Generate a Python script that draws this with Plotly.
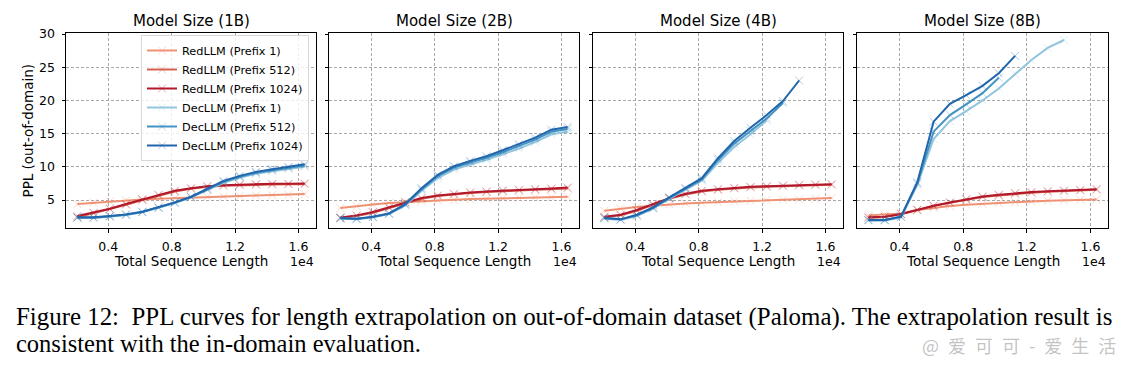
import plotly.graph_objects as go

# ---------------- data ----------------
seq_len = [2048, 3072, 4096, 5120, 6144, 7168, 8192, 9216, 10240,
           11264, 12288, 13312, 14336, 15360, 16384]

panel_titles = ["Model Size (1B)", "Model Size (2B)", "Model Size (4B)", "Model Size (8B)"]
series_names = ["RedLLM (Prefix 1)", "RedLLM (Prefix 512)", "RedLLM (Prefix 1024)",
                "DecLLM (Prefix 1)", "DecLLM (Prefix 512)", "DecLLM (Prefix 1024)"]
series_colors = ["#ef9273", "#d6604d", "#b2182b", "#92c5de", "#4393c3", "#2166ac"]

x_tick_vals = [4000, 8000, 12000, 16000]
x_tick_text = ["0.4", "0.8", "1.2", "1.6"]
y_tick_vals = [5, 10, 15, 20, 25, 30]

# 1B
red1_1b = [4.4, 4.6, 4.8, 4.95, 5.1, 5.2, 5.3, 5.4, 5.5, 5.55, 5.6, 5.7, 5.75, 5.8, 5.9]
red512_1b = [2.4, 3.0, 3.6, 4.3, 5.0, 5.7, 6.3, 6.7, 7.0, 7.15, 7.25, 7.3, 7.35, 7.4, 7.4]
red1024_1b = [2.6, 3.1, 3.7, 4.4, 5.1, 5.8, 6.4, 6.8, 7.1, 7.25, 7.35, 7.4, 7.45, 7.45, 7.5]
dec1_1b = [2.3, 2.3, 2.5, 2.75, 3.15, 3.8, 4.55, 5.4, 6.5, 7.6, 8.35, 8.95, 9.35, 9.7, 10.0]
dec512_1b = [2.35, 2.35, 2.55, 2.8, 3.2, 3.85, 4.6, 5.45, 6.6, 7.75, 8.5, 9.1, 9.5, 9.85, 10.2]
dec1024_1b = [2.4, 2.4, 2.6, 2.85, 3.25, 3.9, 4.65, 5.5, 6.7, 7.9, 8.65, 9.25, 9.65, 10.0, 10.4]

# 2B
red1_2b = [3.8, 4.1, 4.35, 4.55, 4.7, 4.85, 4.95, 5.05, 5.15, 5.2, 5.3, 5.35, 5.4, 5.45, 5.5]
red512_2b = [2.3, 2.6, 3.1, 3.8, 4.6, 5.2, 5.6, 5.85, 6.05, 6.2, 6.35, 6.45, 6.55, 6.65, 6.75]
red1024_2b = [2.4, 2.7, 3.2, 3.9, 4.7, 5.3, 5.7, 5.95, 6.15, 6.3, 6.45, 6.55, 6.65, 6.75, 6.9]
dec1_2b = [2.2, 2.1, 2.4, 2.9, 4.2, 6.4, 8.3, 9.6, 10.35, 11.05, 11.9, 12.75, 13.75, 14.9, 15.3]
dec512_2b = [2.25, 2.15, 2.45, 2.95, 4.3, 6.6, 8.6, 9.9, 10.65, 11.35, 12.2, 13.1, 14.1, 15.3, 15.7]
dec1024_2b = [2.3, 2.2, 2.5, 3.0, 4.4, 6.8, 8.8, 10.1, 10.9, 11.6, 12.5, 13.4, 14.4, 15.6, 16.0]

# 4B
red1_4b = [3.4, 3.7, 3.95, 4.15, 4.35, 4.5, 4.6, 4.7, 4.8, 4.9, 5.0, 5.05, 5.1, 5.2, 5.3]
red512_4b = [2.4, 2.7, 3.4, 4.3, 5.2, 5.85, 6.3, 6.55, 6.75, 6.9, 7.0, 7.1, 7.2, 7.25, 7.3]
red1024_4b = [2.5, 2.8, 3.5, 4.4, 5.3, 5.95, 6.4, 6.65, 6.85, 7.0, 7.1, 7.2, 7.3, 7.35, 7.4]
dec1_4b = [2.2, 2.0, 2.6, 3.7, 5.2, 6.6, 7.9, 10.6, 13.0, 14.9, 17.0]
dec512_4b = [2.3, 2.1, 2.7, 3.8, 5.3, 6.7, 8.1, 11.0, 13.5, 15.4, 17.3, 19.6]
dec1024_4b = [2.3, 2.1, 2.8, 3.9, 5.4, 6.8, 8.3, 11.3, 13.9, 15.9, 17.8, 19.9, 23.0]

# 8B
red1_8b = [2.7, 2.85, 3.0, 3.5, 3.85, 4.1, 4.3, 4.45, 4.6, 4.7, 4.8, 4.9, 4.95, 5.05, 5.1]
red512_8b = [2.3, 2.45, 2.85, 3.5, 4.1, 4.6, 5.05, 5.45, 5.7, 5.95, 6.1, 6.25, 6.35, 6.45, 6.55]
red1024_8b = [2.4, 2.5, 2.9, 3.55, 4.15, 4.65, 5.15, 5.55, 5.8, 6.05, 6.2, 6.35, 6.45, 6.55, 6.65]
dec1_8b = [1.9, 1.9, 2.4, 7.3, 14.2, 16.9, 18.4, 20.0, 21.8, 23.9, 26.1, 27.9, 29.1]
dec512_8b = [2.0, 2.0, 2.5, 7.5, 15.3, 17.8, 19.4, 21.1, 23.4]
dec1024_8b = [2.0, 2.0, 2.5, 7.7, 16.8, 19.5, 20.8, 22.2, 24.1, 26.7]

panels = [
    [red1_1b, red512_1b, red1024_1b, dec1_1b, dec512_1b, dec1024_1b],
    [red1_2b, red512_2b, red1024_2b, dec1_2b, dec512_2b, dec1024_2b],
    [red1_4b, red512_4b, red1024_4b, dec1_4b, dec512_4b, dec1024_4b],
    [red1_8b, red512_8b, red1024_8b, dec1_8b, dec512_8b, dec1024_8b],
]

caption_line1 = ("Figure 12:  PPL curves for length extrapolation on out-of-domain dataset "
                 "(Paloma). The extrapolation result is")
caption_line2 = "consistent with the in-domain evaluation."
watermark = "@\u2002爱\u2002可\u2002可\u2002-\u2002爱\u2002生\u2002活"

# ---------------- layout helpers ----------------
W, H = 1129, 366
def px(v):
    return v / W
def py(v):
    return 1 - v / H

panel_px = [(66, 316), (329, 579), (593, 843), (857, 1108)]
ax_top, ax_bot = 33, 228
FONT = "DejaVu Sans"

def hex_rgba(h, a):
    h = h.lstrip("#")
    r, g, b = int(h[0:2], 16), int(h[2:4], 16), int(h[4:6], 16)
    return f"rgba({r},{g},{b},{a})"

fig = go.Figure()

for p, series in enumerate(panels):
    xa = "x" if p == 0 else f"x{p+1}"
    ya = "y" if p == 0 else f"y{p+1}"
    for s, vals in enumerate(series):
        fig.add_trace(go.Scatter(
            x=seq_len[:len(vals)], y=vals,
            mode="lines+markers",
            name=series_names[s],
            legendgroup=series_names[s],
            showlegend=(p == 0),
            line=dict(color=series_colors[s], width=2),
            marker=dict(symbol="x-thin", size=8,
                        line=dict(width=1, color=hex_rgba(series_colors[s], 0.35))),
            xaxis=xa, yaxis=ya,
        ))

axis_common = dict(
    showline=True, mirror=True, linecolor="black", linewidth=1,
    ticks="outside", ticklen=3.5, tickwidth=0.8, tickcolor="black",
    showgrid=True, gridcolor="#a8a8a8", gridwidth=0.8, griddash="3px,2px",
    zeroline=False, automargin=False,
    tickfont=dict(family=FONT, size=12.5, color="black"),
)

layout = dict(
    width=W, height=H, autosize=False,
    margin=dict(l=0, r=0, t=0, b=0, pad=0, autoexpand=False),
    paper_bgcolor="white", plot_bgcolor="white",
    font=dict(family=FONT, color="black"),
    legend=dict(
        x=px(141), y=py(35), xanchor="left", yanchor="top",
        bgcolor="rgba(255,255,255,0.8)", bordercolor="#d8d8d8", borderwidth=1,
        font=dict(family=FONT, size=11.3, color="black"),
        itemwidth=30, tracegroupgap=0,
    ),
)

annotations = []
for p, (l, r) in enumerate(panel_px):
    sfx = "" if p == 0 else str(p + 1)
    layout["xaxis" + sfx] = dict(
        axis_common, domain=[px(l), px(r)], range=[1331, 17101],
        tickvals=x_tick_vals, ticktext=x_tick_text, anchor="y" + sfx,
        ticklabelstandoff=3,
    )
    layout["yaxis" + sfx] = dict(
        axis_common, domain=[py(ax_bot), py(ax_top)], range=[0.8, 30.15],
        tickvals=y_tick_vals, showticklabels=(p == 0), anchor="x" + sfx,
        ticklabelstandoff=4,
    )
    cx = (l + r) / 2
    annotations.append(dict(text=panel_titles[p], x=px(cx), y=py(20.5), xref="paper", yref="paper",
                            showarrow=False, xanchor="center", yanchor="middle",
                            font=dict(family=FONT, size=15, color="black")))
    annotations.append(dict(text="Total Sequence Length", x=px(cx), y=py(261), xref="paper", yref="paper",
                            showarrow=False, xanchor="center", yanchor="middle",
                            font=dict(family=FONT, size=13.5, color="black")))
    annotations.append(dict(text="1e4", x=px(r), y=py(261), xref="paper", yref="paper",
                            showarrow=False, xanchor="right", yanchor="middle",
                            font=dict(family=FONT, size=12.5, color="black")))

annotations.append(dict(text="PPL (out-of-domain)", x=px(27), y=py(130.5), xref="paper", yref="paper",
                        showarrow=False, xanchor="center", yanchor="middle", textangle=-90,
                        font=dict(family=FONT, size=13.5, color="black")))
annotations.append(dict(text=caption_line1, x=px(14), y=py(317), xref="paper", yref="paper",
                        showarrow=False, xanchor="left", yanchor="middle",
                        font=dict(family="Liberation Serif", size=24.9, color="black")))
annotations.append(dict(text=caption_line2, x=px(14), y=py(343), xref="paper", yref="paper",
                        showarrow=False, xanchor="left", yanchor="middle",
                        font=dict(family="Liberation Serif", size=24.5, color="black")))
annotations.append(dict(text=watermark, x=px(1118), y=py(345), xref="paper", yref="paper",
                        showarrow=False, xanchor="right", yanchor="middle",
                        font=dict(family="Noto Sans CJK SC", size=18, color="rgba(185,185,185,0.85)")))
layout["annotations"] = annotations

fig.update_layout(**layout)
fig.write_html(
    "out.html",
    config={"displayModeBar": False},
    post_script=("document.body.style.margin='0';document.body.style.overflow='hidden';"
                 "var d=document.getElementById('{plot_id}');d.style.position='fixed';"
                 "d.style.top='0px';d.style.left='0px';"),
)
